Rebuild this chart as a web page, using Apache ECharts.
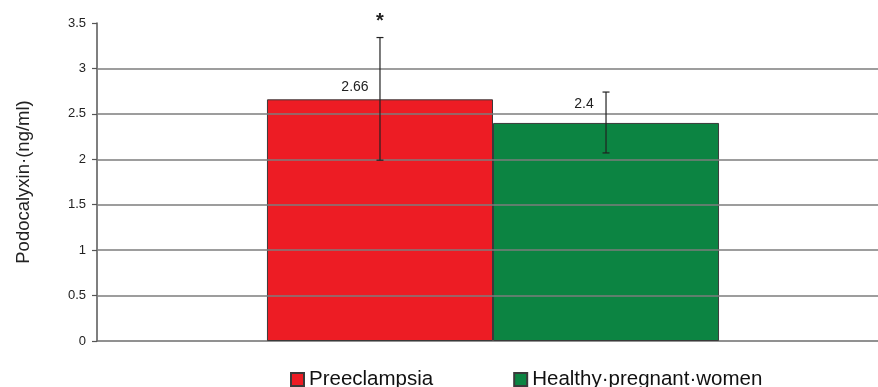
<!DOCTYPE html>
<html>
<head>
<meta charset="utf-8">
<script src="https://cdn.jsdelivr.net/npm/echarts@6/dist/echarts.min.js"></script>
<style>
html,body{margin:0;padding:0;background:#fff;}
#chart{width:878px;height:387px;}
</style>
</head>
<body>
<div id="chart"></div>
<script>
// ---- data ----
const groups = ['Preeclampsia', 'Healthy\u00B7pregnant\u00B7women'];
const means = [2.66, 2.4];
const errLow = [1.99, 2.07];
const errHigh = [3.34, 2.74];
const sigMarks = ['*', ''];
const gridValues = [0.5, 1, 1.5, 2, 2.5, 3];
const yTicks = { min: 0, max: 3.5, interval: 0.5 };
const colors = ['#ed1c24', '#0c8442'];

const FONT = "'Liberation Sans', Arial, sans-serif";
const BAR_FRAC = 0.2854;
const labelOffsets = [[-25, 0], [-22, -7]];

const chart = echarts.init(document.getElementById('chart'));

const barSeries = groups.map((g, i) => ({
  name: g,
  type: 'bar',
  z: 3,
  barWidth: (BAR_FRAC * 100) + '%',
  barGap: '0%',
  data: [means[i]],
  itemStyle: { color: colors[i], borderColor: '#3a3a3a', borderWidth: 1 },
  label: {
    show: true, position: 'top', distance: 5,
    offset: labelOffsets[i],
    color: '#222', fontSize: 14, fontFamily: FONT
  },
  emphasis: { disabled: true }
}));

const errData = groups.map((g, i) => [0, errLow[i], errHigh[i], i, sigMarks[i]]);

const option = {
  animation: false,
  backgroundColor: '#fff',
  grid: { left: 97, width: 792, top: 23, bottom: 46, containLabel: false, outerBoundsMode: 'none' },
  legend: {
    data: groups,
    left: 285, top: 364,
    itemWidth: 13, itemHeight: 13, itemGap: 80,
    icon: 'rect',
    textStyle: { fontSize: 20.5, color: '#111', fontFamily: FONT },
    selectedMode: false
  },
  xAxis: {
    type: 'category',
    data: [''],
    axisLine: { show: true, lineStyle: { color: '#6e6e6e', width: 1.5 } },
    axisTick: { show: false },
    axisLabel: { show: false },
    splitLine: { show: false }
  },
  yAxis: {
    type: 'value',
    min: yTicks.min, max: yTicks.max, interval: yTicks.interval,
    name: 'Podocalyxin\u00B7(ng/ml)',
    nameLocation: 'middle',
    nameGap: 64,
    nameRotate: 90,
    nameTextStyle: { fontSize: 18.5, color: '#222', fontFamily: FONT },
    axisLine: { show: true, lineStyle: { color: '#555', width: 1.5 } },
    axisTick: { show: true, length: 5, inside: false, lineStyle: { color: '#555', width: 1.2 } },
    axisLabel: { margin: 11, fontSize: 13, color: '#222', fontFamily: FONT,
      formatter: v => String(v) },
    splitLine: { show: false }
  },
  series: [
    {
      type: 'line',
      name: 'grid',
      data: [],
      z: 1,
      silent: true,
      markLine: {
        silent: true,
        symbol: ['none', 'none'],
        label: { show: false },
        lineStyle: { color: '#7c7c7c', width: 1.5, type: 'solid' },
        data: gridValues.map(v => ({ yAxis: v }))
      }
    },
    ...barSeries,
    {
      type: 'custom',
      name: 'err',
      z: 10,
      silent: true,
      data: errData,
      renderItem: function (params, api) {
        const band = api.size([1, 0])[0];
        const idx = api.value(3);
        const half = band * BAR_FRAC;
        const center = api.coord([api.value(0), 0])[0];
        const x = center + (idx === 0 ? -half / 2 : half / 2);
        const yLo = api.coord([0, api.value(1)])[1];
        const yHi = api.coord([0, api.value(2)])[1];
        const cap = 3.5;
        const st = { stroke: '#222', lineWidth: 1.2 };
        const children = [
          { type: 'line', shape: { x1: x, y1: yLo, x2: x, y2: yHi }, style: st },
          { type: 'line', shape: { x1: x - cap, y1: yHi, x2: x + cap, y2: yHi }, style: st },
          { type: 'line', shape: { x1: x - cap, y1: yLo, x2: x + cap, y2: yLo }, style: st }
        ];
        const mark = errData[params.dataIndex][4];
        if (mark) {
          children.push({
            type: 'text',
            style: { text: mark, x: x, y: yHi - 6, align: 'center', verticalAlign: 'bottom',
              fontSize: 20, fontWeight: 'bold', fill: '#222', fontFamily: FONT }
          });
        }
        return { type: 'group', children: children };
      }
    }
  ]
};

chart.setOption(option);
</script>
</body>
</html>
